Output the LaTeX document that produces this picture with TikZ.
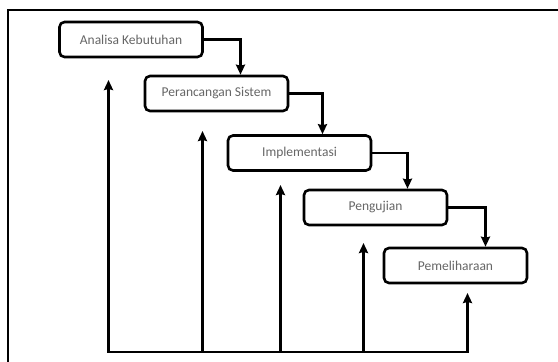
\documentclass[tikz,border=0pt]{standalone}
\usepackage{fontspec}
\setmainfont{Carlito}
\usetikzlibrary{arrows.meta}
\tikzset{
  phase/.style={draw,line width=2.6pt,rounded corners=5pt,fill=white,
    minimum width=143pt,minimum height=35pt,inner sep=0pt,
    text=black!60,font=\fontsize{13.5}{15}\selectfont},
  flow/.style={line width=2.4pt,-{Stealth[length=10pt,width=9pt,inset=1pt]}},
  baseline/.style={line width=2.4pt,line cap=rect},
  frame/.style={line width=2.4pt}
}
\begin{document}
\begin{tikzpicture}[x=1pt,y=-1pt]
    \useasboundingbox (0,0) rectangle (558,362);

    % Coordinates
    \path (558,10) coordinate (FR) (8,10) coordinate (FC) (8,362) coordinate (FB)
      (108.5,352) coordinate (B1) (108.5,80) coordinate (T1)
      (202.5,352) coordinate (B2) (202.5,131) coordinate (T2)
      (280.5,352) coordinate (B3) (280.5,185) coordinate (T3)
      (363.5,352) coordinate (B4) (363.5,243) coordinate (T4)
      (467.5,352) coordinate (B5) (467.5,293) coordinate (T5)
      ;

    % Frame
    \draw[frame] (FR) -- (FC) -- (FB);

    % Phases
    \node[phase] (analisa) at (131,39.5) {Analisa Kebutuhan};
    \node[phase] (perancangan) at (216.5,93.5) {Perancangan Sistem};
    \node[phase] (implementasi) at (299.5,153) {Implementasi};
    \node[phase] (pengujian) at (375.5,207.5) {Pengujian};
    \node[phase] (pemeliharaan) at (455.5,265.5) {Pemeliharaan};

    % Downward steps
    \draw[flow] (analisa.east) -| ([xshift=24pt]perancangan.north);
    \draw[flow] (perancangan.east) -| ([xshift=23pt]implementasi.north);
    \draw[flow] (implementasi.east) -| ([xshift=32pt]pengujian.north);
    \draw[flow] (pengujian.east) -| ([xshift=30pt]pemeliharaan.north);

    % Feedback
    \draw[baseline] (B1) -- (B5);
    \draw[flow] (B1) -- (T1);
    \draw[flow] (B2) -- (T2);
    \draw[flow] (B3) -- (T3);
    \draw[flow] (B4) -- (T4);
    \draw[flow] (B5) -- (T5);

  \end{tikzpicture}
\end{document}
